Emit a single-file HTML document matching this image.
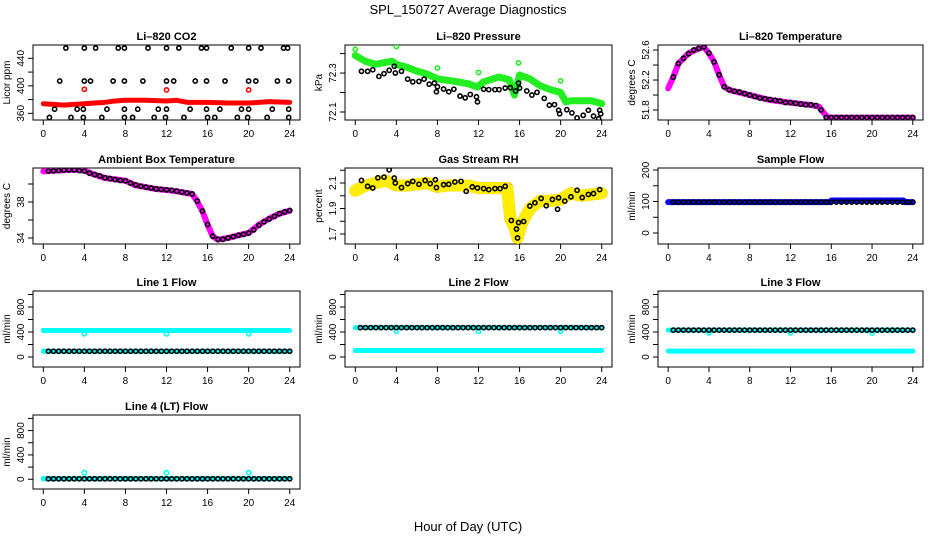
<!DOCTYPE html>
<html><head><meta charset="utf-8"><style>
html,body{margin:0;padding:0;background:#fff}
svg text{font-family:"Liberation Sans",Arial,sans-serif}
</style></head><body>
<svg id="chart" width="936" height="540" xmlns="http://www.w3.org/2000/svg">
<text x="468" y="14" text-anchor="middle" font-size="13">SPL_150727  Average Diagnostics</text>
<text x="468" y="531" text-anchor="middle" font-size="13">Hour of Day (UTC)</text>
</svg>
<script>
// ---- data ----
const xTicks=[0,4,8,12,16,20,24];
const halfHours=[0.5,1,1.5,2,2.5,3,3.5,4,4.5,5,5.5,6,6.5,7,7.5,8,8.5,9,9.5,10,10.5,11,11.5,12,12.5,13,13.5,14,14.5,15,15.5,16,16.5,17,17.5,18,18.5,19,19.5,20,20.5,21,21.5,22,22.5,23,23.5,24];
const outlierHours=[4,12,20];

const co2BandH=[0,1,2,3,4,5,6,7,8,10,12,13,14,16,18,20,21,22,24];
const co2BandV=[374,373,372,373,374,375,376,378,379,379,378,379,376,376,375,375,376,377,376];
const co2RedOut=[395,394,394];
const co2BlkH=[2.2,4.0,5.1,7.3,7.9,10.2,12.0,13.2,15.4,15.9,18.3,20.0,21.2,23.4,23.8, 1.6,4.0,4.6,6.8,7.9,9.7,12.0,12.7,14.8,15.9,17.7,20.0,20.7,22.8,23.9, 1.1,3.3,3.9,6.2,7.9,9.2,11.2,12.0,14.3,15.9,17.2,19.3,20.0,22.3,23.9, 0.6,2.7,3.9,5.7,7.9,8.7,10.8,11.9,13.7,16.0,16.7,18.9,19.9,21.8,23.9];
const co2BlkV=[455,455,455,455,455,455,455,455,455,455,455,455,455,455,455, 407,407,407,407,407,407,407,407,407,407,407,407,407,407,407, 366,366,366,366,366,366,366,366,366,366,366,366,366,366,366, 354,354,354,354,354,354,354,354,354,354,354,354,354,354,354];

const presBandH=[0,1,2,3,3.6,4,5,6,7,8,10,11,11.9,12.5,14,15,15.5,16,17,18,19,20,20.5,21,22,23,24];
const presBandV=[72.39,72.36,72.345,72.355,72.36,72.345,72.33,72.31,72.295,72.27,72.255,72.245,72.228,72.255,72.28,72.265,72.187,72.29,72.27,72.235,72.215,72.2,72.152,72.158,72.158,72.158,72.143];
const presGreenOutH=[0,4,8,12,15.9,20];
const presGreenOutV=[72.422,72.436,72.326,72.303,72.352,72.26];
const presBlkH=[0.6,1.2,1.7,2.3,2.8,3.3,3.8,3.9,4.5,5.1,5.6,6.2,6.7,7.2,7.7,7.9,8.0,8.6,9.1,9.6,10.2,10.7,11.2,11.8,11.9,12.5,13.0,13.6,14.0,14.6,15.1,15.6,15.9,16.0,16.7,17.2,17.7,18.4,18.9,19.4,19.8,19.9,20.6,21.1,21.6,22.2,22.7,23.2,23.7,23.8,23.9];
const presBlkV=[72.309,72.309,72.317,72.283,72.297,72.314,72.335,72.30,72.309,72.269,72.255,72.257,72.269,72.243,72.248,72.204,72.23,72.218,72.204,72.217,72.182,72.173,72.19,72.178,72.152,72.217,72.215,72.215,72.215,72.223,72.225,72.208,72.248,72.223,72.208,72.187,72.201,72.17,72.135,72.138,72.109,72.091,72.112,72.095,72.07,72.083,72.109,72.079,72.065,72.109,72.091];

const tempBandH=[0,0.5,1,2,3,3.5,4,4.5,5,5.5,6,8,10,12,14,14.8,15.3,15.7,16,24];
const tempBandV=[52.09,52.24,52.42,52.556,52.62,52.64,52.556,52.444,52.267,52.11,52.067,52.0,51.933,51.898,51.867,51.844,51.756,51.698,51.698,51.698];
const tempBlkV=[52.24,52.42,52.49,52.55,52.6,52.62,52.64,52.56,52.44,52.27,52.11,52.07,52.05,52.04,52.02,52.0,51.98,51.96,51.95,51.94,51.93,51.92,51.9,51.9,51.89,51.88,51.87,51.87,51.86,51.8,51.7,51.7,51.7,51.7,51.7,51.7,51.7,51.7,51.7,51.7,51.7,51.7,51.7,51.7,51.7,51.7,51.7,51.7];

const ambBandH=[0,1,3,4,5,6,8,9,11,12,13,14.5,15,15.5,16,16.5,17,18,19,20,21,22,23,24];
const ambBandV=[41.41,41.48,41.59,41.48,41.04,40.67,40.37,39.85,39.44,39.33,39.19,38.89,38.07,36.96,35.48,34.19,33.81,34.0,34.3,34.56,35.48,36.15,36.7,37.04];
const ambBlkV=[41.45,41.48,41.5,41.55,41.58,41.58,41.5,41.45,41.2,41.05,40.9,40.7,40.6,40.5,40.4,40.35,40.1,39.9,39.75,39.65,39.55,39.45,39.4,39.35,39.3,39.2,39.1,39.0,38.9,38.1,37.0,35.5,34.2,33.85,33.85,34.0,34.15,34.3,34.4,34.55,34.9,35.4,35.8,36.1,36.4,36.7,36.9,37.05];

const rhBandH=[0,1,2,3,4,5,6,7,8,9,10,11,12,13,14,14.8,15.1,15.5,15.8,16.2,17,18,19,20,21,22,23,24];
const rhBandV=[2.04,2.08,2.1,2.12,2.08,2.08,2.09,2.1,2.07,2.08,2.08,2.08,2.06,2.06,2.06,2.06,1.82,1.75,1.67,1.78,1.9,1.96,1.96,1.97,2.02,2.0,2.01,2.02];
const rhBlkH=[0.6,1.2,1.7,2.2,2.8,3.3,3.8,3.9,4.5,5.1,5.6,6.2,6.8,7.3,7.8,7.9,8.6,9.1,9.7,10.3,10.8,11.4,11.9,12.5,13.0,13.6,14.1,14.6,15.2,15.7,15.8,15.9,16.4,17.0,17.5,18.1,18.6,19.2,19.7,19.8,20.4,21.0,21.6,22.1,22.7,23.2,23.8];
const rhBlkV=[2.12,2.074,2.061,2.141,2.146,2.203,2.139,2.1,2.064,2.095,2.113,2.09,2.12,2.095,2.126,2.064,2.087,2.09,2.108,2.113,2.035,2.069,2.061,2.056,2.048,2.056,2.056,2.074,1.806,1.739,1.669,1.79,1.798,1.919,1.945,1.979,1.922,1.971,1.894,1.984,1.958,1.992,2.043,1.986,2.01,2.017,2.048];

const sampleBandH=[0,4.2,4.6,15.9,16,23.1,23.2,24];
const sampleBandV=[98,98,98,98,103,103,98,98];
const sampleBlkV=98;

const line1Hi=424, line1Lo=92, line1Blk=92, line1Out=371;
const line2Hi=470, line2Lo=104, line2Blk=470, line2Out=410;
const line3Hi=430, line3Lo=95, line3Blk=430, line3Out=385;
const line4Hi=8, line4Lo=8, line4Blk=8, line4Out=108;

// ---- layout ----
const cols=[[33,300],[345,612],[658,923]];
const rows=[[45,120],[168,244],[291,367],[415,489]];
const svg=document.getElementById('chart');
const NS='http://www.w3.org/2000/svg';
function mk(tag,attrs,parent){const e=document.createElementNS(NS,tag);for(const k in attrs)e.setAttribute(k,attrs[k]);(parent||svg).appendChild(e);return e;}

function panel(name,title,ylab,c,r,ymin,ymax,yTicks,yLabels){
  const [L,R]=cols[c],[T,B]=rows[r];
  const g=mk('g',{});
  
  
  const W=R-L,pad=W*0.0385;
  const xs=h=>L+pad+(h/24)*(W-2*pad);
  const ys=v=>B-(v-ymin)/(ymax-ymin)*(B-T);
  const t=mk('text',{x:(L+R)/2,y:T-5,'text-anchor':'middle','font-size':11,'font-weight':'bold'},g);t.textContent=title;
  
  
  const box=mk('rect',{x:L,y:T,width:W,height:B-T,fill:'none',stroke:'#000','stroke-width':1},g);
  
  
  const xa=mk('g',{},g);
  
  
  mk('line',{x1:xs(xTicks[0]),x2:xs(xTicks[xTicks.length-1]),y1:B,y2:B,stroke:'#000'},xa);
  xTicks.forEach(v=>{mk('line',{x1:xs(v),x2:xs(v),y1:B,y2:B+5,stroke:'#000'},xa);
    const tt=mk('text',{x:xs(v),y:B+17,'text-anchor':'middle','font-size':10},xa);tt.textContent=v;});
  const ya=mk('g',{},g);
  
  
  mk('line',{x1:L,x2:L,y1:ys(yTicks[0]),y2:ys(yTicks[yTicks.length-1]),stroke:'#000'},ya);
  yTicks.forEach(v=>{mk('line',{x1:L-5,x2:L,y1:ys(v),y2:ys(v),stroke:'#000'},ya);});
  yLabels.forEach(v=>{const tt=mk('text',{x:L-9,y:ys(v),'text-anchor':'middle','font-size':10,transform:`rotate(-90 ${L-9} ${ys(v)})`},ya);tt.textContent=v;});
  const yl=mk('text',{x:L-23,y:(T+B)/2,'text-anchor':'middle','font-size':10,transform:`rotate(-90 ${L-23} ${(T+B)/2})`},g);yl.textContent=ylab;
  
  
  const clipId='clip-'+name;
  const cp=mk('clipPath',{id:clipId},g);mk('rect',{x:L,y:T,width:W,height:B-T},cp);
  const plot=mk('g',{'clip-path':`url(#${clipId})`},g);
  
  
  return {xs,ys,plot,g};
}
function band(p,H,V,color,w,nm){
  const pts=H.map((h,i)=>p.xs(h)+','+p.ys(V[i])).join(' ');
  const e=mk('polyline',{points:pts,fill:'none',stroke:color,'stroke-width':w,'stroke-linejoin':'round','stroke-linecap':'round'},p.plot);
  
  
  return e;
}
function circles(p,H,V,color,nm,r){
  H.forEach((h,i)=>{const v=Array.isArray(V)?V[i]:V;
    const e=mk('circle',{cx:p.xs(h),cy:p.ys(v),r:r||2.1,fill:'none',stroke:color,'stroke-width':1.6},p.plot);
    
    
  });
}

// CO2
let p=panel('co2','Li\u2013820 CO2','Licor ppm',0,0,350.3,459.4,[360,380,400,420,440],[360,400,440]);
band(p,co2BandH,co2BandV,'#ff0000',5,'co2-red-band');
circles(p,outlierHours,co2RedOut,'#ff0000','co2-red-point');
circles(p,co2BlkH,co2BlkV,'#000','co2-black-point');

// Pressure
p=panel('pressure','Li\u2013820 Pressure','kPa',1,0,72.059,72.444,[72.1,72.2,72.3,72.4],[72.1,72.3]);
band(p,presBandH,presBandV,'#22ee22',7,'pressure-green-band');
circles(p,presGreenOutH,presGreenOutV,'#22ee22','pressure-green-point');
circles(p,presBlkH,presBlkV,'#000','pressure-black-point');

// Temperature
p=panel('li820-temp','Li\u2013820 Temperature','degrees C',2,0,51.667,52.667,[51.8,52.0,52.2,52.4,52.6],[51.8,52.2,52.6]);
band(p,tempBandH,tempBandV,'#ff00ff',6,'temp-magenta-band');
circles(p,halfHours,tempBlkV,'#000','temp-black-point');

// Ambient
p=panel('ambient-temp','Ambient Box Temperature','degrees C',0,1,33.33,41.78,[34,36,38,40],[34,38]);
band(p,ambBandH,ambBandV,'#ff00ff',6,'ambient-magenta-band');
circles(p,halfHours,ambBlkV,'#000','ambient-black-point');

// RH
p=panel('rh','Gas Stream RH','percent',1,1,1.6216,2.2176,[1.7,1.8,1.9,2.0,2.1,2.2],[1.7,1.9,2.1]);
band(p,rhBandH,rhBandV,'#ee8800',12,'rh-orange-band');
band(p,rhBandH,rhBandV,'#ffee00',12,'rh-yellow-band').setAttribute('stroke-dasharray','1 2.5');
circles(p,rhBlkH,rhBlkV,'#000','rh-black-point');

// Sample flow
p=panel('sample-flow','Sample Flow','ml/min',2,1,-34.9,206.3,[0,50,100,150,200],[0,100,200]);
band(p,sampleBandH,sampleBandV,'#0000ff',6,'sample-blue-band');
circles(p,halfHours,sampleBlkV,'#000','sample-black-point');

function flowPanel(name,title,c,r,hi,lo,blk,out){
  const q=panel(name,title,'ml/min',c,r,-160,1056,[0,200,400,600,800,1000],[0,400,800]);
  band(q,[0,24],[hi,hi],'#00ffff',5,name+'-cyan-high');
  band(q,[0,24],[lo,lo],'#00ffff',5,name+'-cyan-low');
  circles(q,outlierHours,out,'#00ffff',name+'-cyan-outlier');
  circles(q,halfHours,blk,'#000',name+'-black-point');
}
flowPanel('line1-flow','Line 1 Flow',0,2,line1Hi,line1Lo,line1Blk,line1Out);
flowPanel('line2-flow','Line 2 Flow',1,2,line2Hi,line2Lo,line2Blk,line2Out);
flowPanel('line3-flow','Line 3 Flow',2,2,line3Hi,line3Lo,line3Blk,line3Out);
flowPanel('line4-flow','Line 4 (LT) Flow',0,3,line4Hi,line4Lo,line4Blk,line4Out);
</script>
</body></html>
